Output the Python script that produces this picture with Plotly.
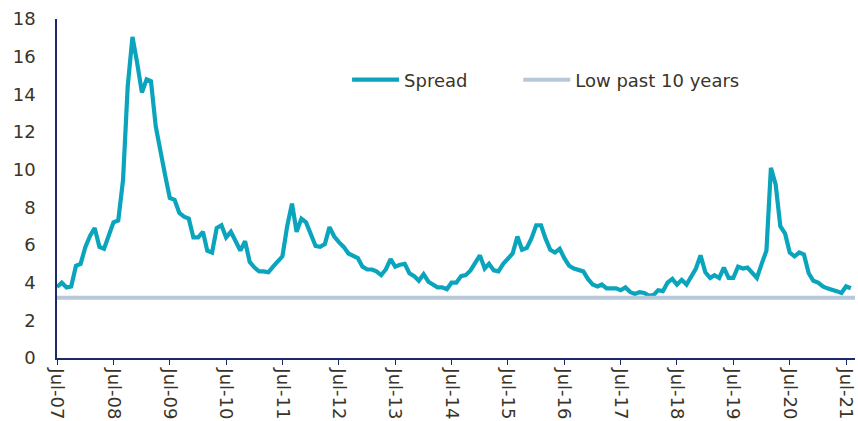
import pandas as pd
import plotly.graph_objects as go

# Monthly spread, starting July 2007
start_month = "2007-07-01"
spread = [
    3.77, 4.0, 3.75, 3.8, 4.9, 5.0, 5.9, 6.5, 6.9, 5.9, 5.8, 6.6, 7.2, 7.3,
    9.45, 14.4, 17.05, 15.7, 14.1, 14.8, 14.7, 12.3, 10.9, 9.7, 8.5, 8.4, 7.7,
    7.5, 7.4, 6.4, 6.4, 6.7, 5.7, 5.6, 6.9, 7.05, 6.4, 6.7, 6.2, 5.7, 6.2, 5.1,
    4.8, 4.6, 4.6, 4.55, 4.85, 5.1, 5.4, 7.0, 8.2, 6.7, 7.4, 7.2, 6.6, 5.95,
    5.9, 6.05, 6.95,
    6.45, 6.15, 5.9, 5.55, 5.4, 5.3, 4.85, 4.7, 4.7, 4.6, 4.4, 4.7, 5.25, 4.85,
    4.95, 5.0, 4.5, 4.35, 4.1, 4.45, 4.05, 3.9, 3.75, 3.75, 3.65, 4.0, 4.0,
    4.35, 4.4, 4.65, 5.1, 5.45,
    4.75, 5.0, 4.65, 4.6, 5.0, 5.3, 5.55, 6.45, 5.75, 5.85, 6.35, 7.05, 7.05,
    6.35, 5.75, 5.6, 5.8, 5.3, 4.9, 4.75, 4.65, 4.6, 4.2, 3.9, 3.8, 3.9, 3.7,
    3.7,
    3.7, 3.6, 3.75, 3.5, 3.4, 3.5, 3.45, 3.3, 3.35, 3.6, 3.55, 4.0, 4.2, 3.9,
    4.15, 3.9, 4.3, 4.75, 5.45, 4.55, 4.25, 4.4, 4.25, 4.8, 4.25, 4.25, 4.85,
    4.75, 4.8, 4.55, 4.25, 5.0, 5.7, 10.1,
    9.2, 7.0, 6.6, 5.6, 5.4, 5.6, 5.5, 4.5, 4.1, 4.0, 3.8, 3.7, 3.65, 3.55,
    3.45, 3.8, 3.7,
]
low_past_10y = 3.2

series_names = ["Spread", "Low past 10 years"]
y_ticks = [0, 2, 4, 6, 8, 10, 12, 14, 16, 18]
x_end = "2021-08-28"

months = pd.date_range(start_month, periods=len(spread), freq="MS")

TEAL = "#0AA5BC"
LOW_GREY = "#B9C8D8"
AXIS_NAVY = "#1C2A6B"
TEXT = "#3A3428"
FONT = "Verdana, DejaVu Sans, sans-serif"

fig = go.Figure()
fig.add_trace(go.Scatter(
    x=months, y=spread, mode="lines", name=series_names[0],
    line=dict(color=TEAL, width=4.2), legend="legend",
))
fig.add_trace(go.Scatter(
    x=[pd.Timestamp(start_month), pd.Timestamp(x_end)],
    y=[low_past_10y, low_past_10y], mode="lines", name=series_names[1],
    line=dict(color=LOW_GREY, width=4), legend="legend2",
))

legend_style = dict(
    orientation="h", xanchor="left", y=0.82, yanchor="middle",
    font=dict(family=FONT, size=18, color=TEXT),
    bgcolor="rgba(0,0,0,0)", itemwidth=47,
)

fig.update_layout(
    width=858, height=421,
    margin=dict(l=57, r=3, t=19, b=63),
    paper_bgcolor="white", plot_bgcolor="white",
    font=dict(family=FONT, size=18, color=TEXT),
    showlegend=True,
    legend=dict(x=0.3635, **legend_style),
    legend2=dict(x=0.578, **legend_style),
)
fig.update_xaxes(
    type="date",
    range=[pd.Timestamp(start_month), pd.Timestamp(x_end)],
    tick0=start_month, dtick="M12", tickformat="%b-%y", tickangle=90,
    ticks="outside", ticklen=5, tickcolor=AXIS_NAVY, tickwidth=1,
    showline=True, linecolor=AXIS_NAVY, linewidth=1.5,
    showgrid=False, zeroline=False, automargin=False,
    ticklabeloverflow="allow",
    tickfont=dict(family=FONT, size=18, color=TEXT),
)
fig.update_yaxes(
    range=[0, 18], tickvals=y_ticks,
    showline=True, linecolor=AXIS_NAVY, linewidth=1.5,
    ticks="", ticklabelstandoff=16,
    showgrid=False, zeroline=False, automargin=False,
    tickfont=dict(family=FONT, size=18, color=TEXT),
)

fig.write_html("out.html")
